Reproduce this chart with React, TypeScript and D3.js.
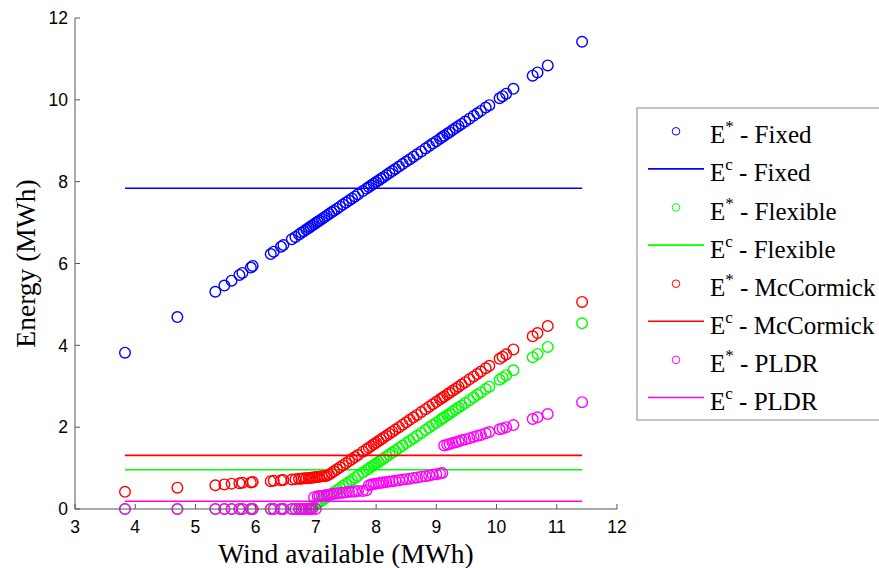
import React, { useEffect, useRef } from "react";
import * as d3 from "d3";

const windAvailable = [
  3.83, 4.70, 5.33, 5.48, 5.60, 5.73, 5.78, 5.92, 5.95, 6.25, 6.30, 6.42, 6.46, 6.60, 6.66, 6.72,
  6.76, 6.80, 6.84, 6.88, 6.91, 6.94, 6.97, 7.00, 7.03, 7.06, 7.10, 7.14, 7.18, 7.22, 7.26, 7.30,
  7.35, 7.40, 7.45, 7.50, 7.55, 7.60, 7.65, 7.70, 7.78, 7.84, 7.88, 7.92, 7.96, 8.00, 8.04, 8.08,
  8.12, 8.17, 8.22, 8.27, 8.32, 8.38, 8.44, 8.50, 8.56, 8.62, 8.68, 8.75, 8.82, 8.88, 8.94, 9.00,
  9.06, 9.10, 9.13, 9.18, 9.22, 9.27, 9.32, 9.37, 9.42, 9.48, 9.55, 9.62, 9.68, 9.74, 9.82, 9.88,
  10.05, 10.10, 10.16, 10.28, 10.60, 10.68, 10.85, 11.42,
];

const eStarFixed = [
  3.82, 4.69, 5.31, 5.46, 5.58, 5.72, 5.77, 5.90, 5.94, 6.23, 6.29, 6.41, 6.45, 6.59, 6.65, 6.71,
  6.75, 6.79, 6.83, 6.87, 6.90, 6.93, 6.96, 6.99, 7.02, 7.05, 7.09, 7.13, 7.17, 7.21, 7.25, 7.29,
  7.34, 7.39, 7.44, 7.49, 7.54, 7.59, 7.64, 7.69, 7.77, 7.83, 7.87, 7.91, 7.95, 7.99, 8.03, 8.07,
  8.11, 8.16, 8.21, 8.26, 8.31, 8.37, 8.43, 8.49, 8.55, 8.61, 8.67, 8.74, 8.81, 8.87, 8.93, 8.99,
  9.05, 9.09, 9.12, 9.17, 9.21, 9.26, 9.31, 9.36, 9.41, 9.47, 9.54, 9.61, 9.67, 9.73, 9.81, 9.87,
  10.04, 10.09, 10.15, 10.27, 10.59, 10.67, 10.84, 11.42,
];

const eStarFlexible = [
  0, 0, 0, 0, 0, 0, 0, 0, 0, 0, 0, 0, 0, 0, 0, 0,
  0, 0, 0, 0, 0.02, 0.05, 0.08, 0.11, 0.14, 0.17, 0.21, 0.25, 0.29, 0.33, 0.37, 0.41,
  0.46, 0.51, 0.56, 0.61, 0.66, 0.71, 0.76, 0.81, 0.89, 0.95, 0.99, 1.03, 1.07, 1.11, 1.15, 1.19,
  1.23, 1.28, 1.33, 1.38, 1.43, 1.49, 1.55, 1.61, 1.67, 1.73, 1.79, 1.86, 1.93, 1.99, 2.05, 2.11,
  2.17, 2.21, 2.24, 2.29, 2.33, 2.38, 2.43, 2.48, 2.53, 2.59, 2.66, 2.73, 2.79, 2.85, 2.93, 2.99,
  3.16, 3.21, 3.27, 3.39, 3.71, 3.79, 3.96, 4.54,
];

const eStarMcCormick = [
  0.42, 0.52, 0.58, 0.60, 0.62, 0.63, 0.64, 0.65, 0.66, 0.68, 0.69, 0.70, 0.71, 0.72, 0.73, 0.74,
  0.74, 0.75, 0.75, 0.76, 0.76, 0.77, 0.77, 0.78, 0.78, 0.79, 0.80, 0.80, 0.81, 0.84, 0.88, 0.92,
  0.97, 1.02, 1.07, 1.12, 1.17, 1.22, 1.27, 1.32, 1.40, 1.46, 1.50, 1.54, 1.58, 1.62, 1.66, 1.70,
  1.74, 1.79, 1.84, 1.89, 1.94, 2.00, 2.06, 2.12, 2.18, 2.24, 2.30, 2.37, 2.44, 2.50, 2.56, 2.62,
  2.68, 2.72, 2.75, 2.80, 2.84, 2.89, 2.94, 2.99, 3.04, 3.10, 3.17, 3.24, 3.30, 3.36, 3.44, 3.50,
  3.67, 3.72, 3.78, 3.90, 4.22, 4.30, 4.47, 5.06,
];

const eStarPLDR = [
  0, 0, 0, 0, 0, 0, 0, 0, 0, 0, 0, 0, 0, 0, 0, 0,
  0, 0, 0, 0, 0, 0, 0.29, 0, 0.31, 0.31, 0.32, 0.33, 0.34, 0.35, 0.36, 0.37,
  0.38, 0.39, 0.40, 0.41, 0.42, 0.42, 0.43, 0.44, 0.44, 0.46, 0.58, 0.60, 0.61, 0.62, 0.63, 0.64,
  0.65, 0.66, 0.67, 0.68, 0.69, 0.70, 0.72, 0.73, 0.74, 0.76, 0.77, 0.79, 0.80, 0.82, 0.84, 0.85,
  0.87, 0.88, 1.55, 1.57, 1.59, 1.61, 1.63, 1.65, 1.68, 1.70, 1.73, 1.76, 1.79, 1.81, 1.85, 1.88,
  1.95, 1.97, 2.00, 2.05, 2.20, 2.24, 2.32, 2.61,
];

const methods = ["Fixed", "Flexible", "McCormick", "PLDR"];
const methodColors = ["#0000ff", "#00ff00", "#ff0000", "#ff00ff"];
const eCapValues = [7.84, 0.96, 1.31, 0.19];
const xTicks = [3, 4, 5, 6, 7, 8, 9, 10, 11, 12];
const yTicks = [0, 2, 4, 6, 8, 10, 12];

const W = 879;
const H = 568;
const plot = { left: 75, right: 617, top: 18, bottom: 509 };

export default function App() {
  const ref = useRef<SVGSVGElement | null>(null);

  useEffect(() => {
    const svg = d3.select(ref.current);
    svg.selectAll("*").remove();
    svg.append("style").text(
      "text.ser, text.ser tspan { font-family: 'Liberation Serif' !important; } text.san { font-family: 'Liberation Sans' !important; }"
    );
    const x = d3.scaleLinear().domain([3, 12]).range([plot.left, plot.right]);
    const y = d3.scaleLinear().domain([0, 12]).range([plot.bottom, plot.top]);
    const seriesStar = [eStarFixed, eStarFlexible, eStarMcCormick, eStarPLDR];
    const xExtent = d3.extent(windAvailable) as [number, number];
    const axisColor = "#555";

    svg.append("rect").attr("width", W).attr("height", H).attr("fill", "#fff");

    methods.forEach((m, i) => {
      svg
        .append("g")
        .attr("fill", "none")
        .attr("stroke", methodColors[i])
        .attr("stroke-width", 1.4)
        .selectAll("circle")
        .data(windAvailable)
        .join("circle")
        .attr("cx", (w) => x(w))
        .attr("cy", (_w, j) => y(seriesStar[i][j]))
        .attr("r", 5.3);
      svg
        .append("line")
        .attr("x1", x(xExtent[0]))
        .attr("x2", x(xExtent[1]))
        .attr("y1", y(eCapValues[i]))
        .attr("y2", y(eCapValues[i]))
        .attr("stroke", methodColors[i])
        .attr("stroke-width", 1.6);
    });

    // axes
    svg.append("line").attr("x1", plot.left).attr("x2", plot.left).attr("y1", plot.top).attr("y2", plot.bottom).attr("stroke", axisColor);
    svg.append("line").attr("x1", plot.left).attr("x2", plot.right).attr("y1", plot.bottom).attr("y2", plot.bottom).attr("stroke", axisColor);

    yTicks.forEach((t) => {
      svg.append("line").attr("x1", plot.left).attr("x2", plot.left + 5).attr("y1", y(t)).attr("y2", y(t)).attr("stroke", axisColor);
      svg
        .append("text")
        .attr("class", "san")
        .attr("x", plot.left - 7)
        .attr("y", y(t))
        .attr("dy", "0.36em")
        .attr("text-anchor", "end")
        .attr("font-family", "Liberation Sans")
        .attr("font-size", 17.5)
        .text(String(t));
    });
    xTicks.forEach((t) => {
      svg.append("line").attr("x1", x(t)).attr("x2", x(t)).attr("y1", plot.bottom).attr("y2", plot.bottom - 5).attr("stroke", axisColor);
      svg
        .append("text")
        .attr("class", "san")
        .attr("x", x(t))
        .attr("y", 532.5)
        .attr("text-anchor", "middle")
        .attr("font-family", "Liberation Sans")
        .attr("font-size", 17.5)
        .text(String(t));
    });

    svg
      .append("text")
      .attr("class", "ser")
      .attr("x", (plot.left + plot.right) / 2)
      .attr("y", 563)
      .attr("text-anchor", "middle")
      .attr("font-family", "Liberation Serif")
      .attr("font-size", 27.5)
      .text("Wind available (MWh)");
    svg
      .append("text")
      .attr("class", "ser")
      .attr("transform", `translate(35, ${(plot.top + plot.bottom) / 2}) rotate(-90)`)
      .attr("text-anchor", "middle")
      .attr("font-family", "Liberation Serif")
      .attr("font-size", 27.5)
      .text("Energy (MWh)");

    // legend
    const legendX = 637;
    const legendTop = 108;
    const rowH = 38.1;
    const firstBaseline = 143.3;
    svg
      .append("rect")
      .attr("x", legendX)
      .attr("y", legendTop)
      .attr("width", 300)
      .attr("height", 312)
      .attr("fill", "#fff")
      .attr("stroke", "#888");

    const addLabel = (yb: number, sup: string, m: string) => {
      const t = svg
        .append("text")
        .attr("class", "ser")
        .attr("x", 710)
        .attr("y", yb)
        .attr("font-family", "Liberation Serif")
        .attr("font-size", 25);
      t.append("tspan").text("E");
      t.append("tspan").attr("font-size", 17).attr("dy", -11).text(sup);
      t.append("tspan").attr("dy", 11).text(" - " + m);
    };

    methods.forEach((m, i) => {
      const b1 = firstBaseline + rowH * (2 * i);
      const b2 = firstBaseline + rowH * (2 * i + 1);
      svg
        .append("circle")
        .attr("cx", 676)
        .attr("cy", b1 - 12)
        .attr("r", 3.8)
        .attr("fill", "none")
        .attr("stroke", methodColors[i]);
      addLabel(b1, "*", m);
      svg
        .append("line")
        .attr("x1", 648)
        .attr("x2", 704)
        .attr("y1", b2 - 12.5)
        .attr("y2", b2 - 12.5)
        .attr("stroke", methodColors[i])
        .attr("stroke-width", 1.6);
      addLabel(b2, "c", m);
    });
  }, []);

  return <svg ref={ref} width={W} height={H} style={{ position: "absolute", left: 0, top: 0, background: "#fff" }} />;
}
